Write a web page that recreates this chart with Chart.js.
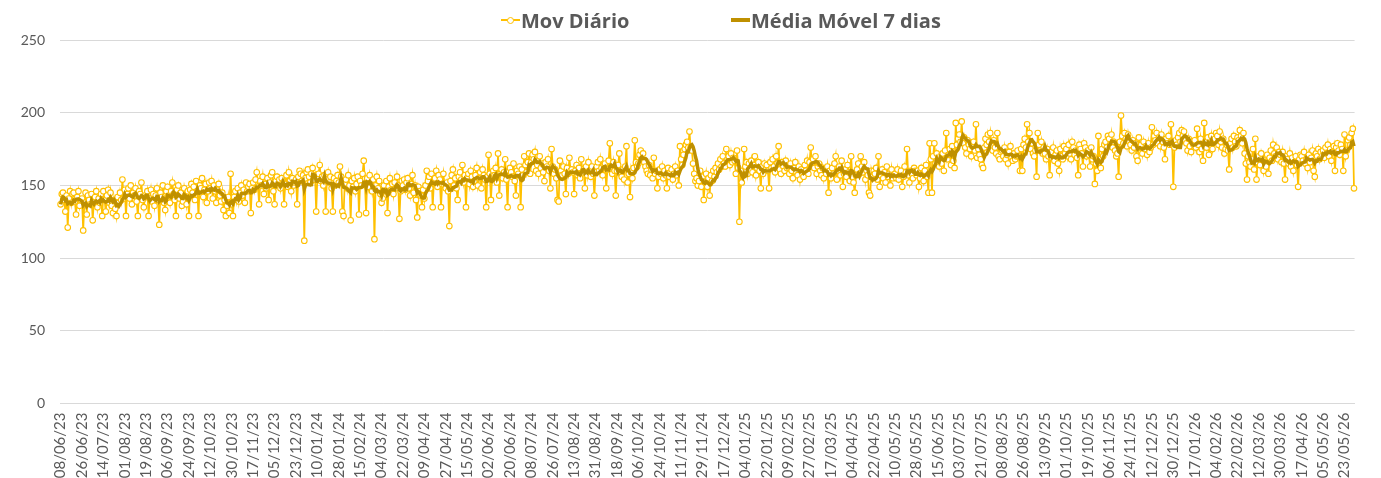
<!DOCTYPE html>
<html>
<head>
<meta charset="utf-8">
<script src="https://cdn.jsdelivr.net/npm/chart.js@4.4.1/dist/chart.umd.min.js"></script>
<style>
  html, body { margin: 0; padding: 0; background: #ffffff; overflow: hidden; }
  #wrap { position: relative; width: 1381px; height: 478px; }
  #c { position: absolute; left: 0; top: 0; }
  .leg { position: absolute; top: 7px; height: 26px; display: flex; align-items: center;
         font-family: "Open Sans", Lato, sans-serif; font-weight: 700; font-size: 20px; color: #595959; white-space: nowrap; }
  .ico { position: relative; width: 19px; height: 26px; margin-right: 1px; }
  .ico .ln { position: absolute; left: 0; right: 0; top: 50%; }
  .ico .mk { position: absolute; left: 50%; top: 50%; width: 5px; height: 5px; margin: -3.5px 0 0 -3.5px;
             border: 1.2px solid #FFC000; border-radius: 50%; background: #fff; }
</style>
</head>
<body>
<div id="wrap">
  <canvas id="c" width="1381" height="478" style="width:1381px;height:478px"></canvas>
  <div class="leg" style="left:501px">
    <span class="ico"><span class="ln" style="height:2px;margin-top:-1px;background:#FFC000"></span><span class="mk"></span></span>
    <span>Mov Diário</span>
  </div>
  <div class="leg" style="left:731px">
    <span class="ico"><span class="ln" style="height:3.5px;margin-top:-1.75px;background:#BF9000"></span></span>
    <span>Média Móvel 7 dias</span>
  </div>
</div>
<script>
// ---- data ----
const startDate = [2023, 6, 8];   // first category: 08/06/23 (daily)
const dayCount = 1089;

const tickLabels = ["08/06/23","26/06/23","14/07/23","01/08/23","19/08/23","06/09/23","24/09/23","12/10/23","30/10/23","17/11/23",
  "05/12/23","23/12/23","10/01/24","28/01/24","15/02/24","04/03/24","22/03/24","09/04/24","27/04/24","15/05/24",
  "02/06/24","20/06/24","08/07/24","26/07/24","13/08/24","31/08/24","18/09/24","06/10/24","24/10/24","11/11/24",
  "29/11/24","17/12/24","04/01/25","22/01/25","09/02/25","27/02/25","17/03/25","04/04/25","22/04/25","10/05/25",
  "28/05/25","15/06/25","03/07/25","21/07/25","08/08/25","26/08/25","13/09/25","01/10/25","19/10/25","06/11/25",
  "24/11/25","12/12/25","30/12/25","17/01/26","04/02/26","22/02/26","12/03/26","30/03/26","17/04/26","05/05/26","23/05/26"];

const yTicks = [0, 50, 100, 150, 200, 250];

const movDiario = [
  137,144,145,140,132,143,121,141,146,138,144,145,139,130,142,146,136,140,
  141,119,138,145,130,143,140,137,144,126,139,142,146,135,141,138,144,129,
  146,140,132,143,147,138,145,136,131,140,134,129,142,138,145,140,154,141,
  147,129,144,148,141,150,137,145,143,148,139,129,146,144,152,140,135,143,
  142,146,129,141,147,139,144,136,143,148,140,123,145,142,150,138,133,146,
  149,143,138,146,152,144,140,129,147,150,141,145,136,139,148,143,137,146,
  129,147,151,145,149,140,153,146,129,150,148,155,142,147,151,138,146,152,
  148,153,141,150,146,138,147,151,143,139,145,133,140,129,136,142,131,158,
  137,129,142,146,140,148,139,145,150,143,147,138,152,146,149,151,131,148,
  152,147,154,159,149,137,153,150,156,144,151,148,155,140,152,157,159,146,
  137,153,156,150,154,148,155,152,137,151,157,149,159,153,146,155,150,152,
  154,137,156,160,158,153,157,112,155,159,161,156,152,158,162,154,157,132,
  155,158,164,153,156,150,157,132,154,159,152,156,148,132,155,150,153,157,
  152,163,156,132,129,151,154,148,157,150,126,153,149,155,146,151,156,130,
  153,150,158,167,151,131,155,149,157,152,146,154,113,150,156,148,153,144,
  138,141,150,146,153,131,149,155,147,151,144,152,148,156,150,127,146,153,
  150,154,147,152,155,148,143,151,157,145,150,140,128,149,146,143,135,147,
  141,150,160,153,156,148,158,135,152,155,160,149,157,154,135,151,158,150,
  148,152,146,122,153,157,161,150,155,148,140,156,159,154,164,152,157,135,
  155,158,151,160,156,149,153,157,162,150,155,159,148,161,157,154,135,156,
  171,158,140,155,160,157,162,152,172,143,158,161,155,159,168,154,135,160,
  162,159,156,165,153,143,160,158,163,135,161,157,170,164,159,166,172,158,
  166,171,168,173,160,164,158,170,162,165,159,153,166,163,168,160,148,175,
  163,158,161,155,140,139,167,160,157,163,158,144,162,158,169,160,161,159,
  144,160,164,157,162,155,168,159,161,148,163,157,166,160,156,163,158,143,
  159,163,166,160,168,162,157,164,165,148,161,167,179,163,158,166,160,143,
  160,164,172,158,156,161,154,163,177,152,158,142,160,155,162,181,166,163,
  165,171,174,168,172,166,163,160,158,164,157,161,155,169,158,160,148,156,
  161,158,163,155,160,157,148,162,156,159,161,154,158,163,157,160,150,177,
  168,164,171,175,178,180,176,187,176,174,165,158,153,155,150,153,160,149,
  156,140,152,158,149,155,143,157,153,160,156,162,159,165,161,168,163,170,
  165,163,175,168,170,164,172,166,169,167,158,174,162,125,160,152,157,175,
  163,166,158,165,161,167,159,164,170,157,162,166,160,148,163,158,165,161,
  164,160,148,166,162,168,163,159,170,165,177,161,158,166,163,160,167,162,
  163,158,165,160,155,162,166,159,157,163,154,161,158,156,164,160,167,158,
  166,176,164,168,162,170,158,163,165,160,157,162,155,161,158,163,145,160,
  155,162,158,165,170,154,160,163,157,167,149,158,161,156,164,159,153,170,
  156,152,145,157,161,165,158,170,163,159,166,154,160,157,145,143,160,156,
  160,158,162,154,170,149,157,161,155,159,152,163,156,158,150,161,155,157,
  158,155,161,154,157,160,149,156,163,159,175,157,152,160,158,155,162,160,
  157,160,149,155,162,158,153,160,164,156,145,179,168,145,170,179,165,172,
  168,163,170,165,172,160,174,186,168,171,175,164,177,167,162,193,178,182,
  185,180,194,179,183,176,172,181,178,175,170,177,180,174,192,169,175,171,
  168,164,162,176,182,178,185,180,186,177,174,181,176,172,186,170,168,173,
  174,170,176,168,171,165,173,177,169,167,172,168,170,174,170,160,175,160,
  178,182,176,192,180,186,175,179,172,170,174,156,186,178,174,180,172,176,
  172,168,175,170,157,173,169,176,167,171,174,165,160,175,170,168,177,172,
  175,170,178,172,168,180,176,171,174,169,157,178,175,172,163,179,176,170,
  174,171,163,176,168,170,151,165,160,184,168,162,175,170,178,180,176,184,
  182,178,185,176,180,174,170,172,156,180,198,184,179,186,182,177,185,180,
  178,174,181,176,179,170,167,183,176,178,172,180,175,177,171,179,173,176,
  190,178,184,181,186,179,183,177,185,180,176,168,182,179,184,178,192,180,
  149,176,181,178,183,186,180,188,184,187,181,179,174,182,177,173,180,178,
  181,176,189,178,173,182,175,167,193,180,176,183,171,178,184,175,180,182,
  186,184,178,187,180,176,182,172,175,178,174,161,179,182,176,184,180,177,
  183,181,188,184,179,186,172,165,154,170,166,163,168,175,161,182,154,166,
  170,164,172,168,160,166,163,171,158,169,174,167,178,172,170,176,168,173,
  171,166,173,165,154,170,168,165,172,163,169,160,166,170,164,149,168,171,
  170,167,173,165,168,162,171,166,169,174,160,156,172,170,175,168,173,170,
  174,169,176,172,178,170,175,167,173,177,160,176,179,174,171,178,175,160,
  185,170,174,181,183,178,186,189,148
];

// 7-day moving average of the daily series (as in the source sheet)
const mediaMovel7 = movDiario.map((v, i) => {
  const s = movDiario.slice(Math.max(0, i - 6), i + 1);
  return s.reduce((a, b) => a + b, 0) / s.length;
});

// daily categories dd/mm/yy
const categories = [];
for (let i = 0; i < dayCount; i++) {
  const d = new Date(Date.UTC(startDate[0], startDate[1] - 1, startDate[2] + i));
  const dd = String(d.getUTCDate()).padStart(2, '0');
  const mm = String(d.getUTCMonth() + 1).padStart(2, '0');
  const yy = String(d.getUTCFullYear()).slice(2);
  categories.push(dd + '/' + mm + '/' + yy);
}

// ---- chart ----
const W = 1381, H = 478;
const yFont = { family: 'Lato, "Open Sans", sans-serif', size: 14 };
const xFont = { family: 'Lato, "Open Sans", sans-serif', size: 15 };

new Chart(document.getElementById('c'), {
  type: 'line',
  data: {
    labels: categories,
    datasets: [
      {
        label: 'Média Móvel 7 dias',
        data: mediaMovel7,
        borderColor: '#BF9000',
        borderWidth: 3.5,
        pointRadius: 0,
        tension: 0,
        order: 0
      },
      {
        label: 'Mov Diário',
        data: movDiario,
        borderColor: '#FFC000',
        borderWidth: 1.75,
        pointRadius: 2.8,
        pointBorderWidth: 1.1,
        pointBackgroundColor: '#FFFFFF',
        pointBorderColor: '#FFC000',
        tension: 0,
        order: 1
      }
    ]
  },
  options: {
    responsive: false,
    animation: false,
    events: [],
    layout: { padding: { top: 40, right: 8, left: 0, bottom: 0 } },
    plugins: { legend: { display: false }, tooltip: { enabled: false } },
    scales: {
      x: {
        type: 'category',
        offset: true,
        grid: { display: false, drawTicks: false },
        border: { display: true, color: '#D9D9D9', width: 1 },
        ticks: {
          autoSkip: false,
          minRotation: 90,
          maxRotation: 90,
          padding: 9,
          color: '#595959',
          font: xFont,
          callback: (v, i) => (i % 18 === 0 ? tickLabels[i / 18] : '')
        },
        afterFit: s => { s.height = H - 403.5; }
      },
      y: {
        min: yTicks[0],
        max: yTicks[yTicks.length - 1],
        afterBuildTicks: s => { s.ticks = yTicks.map(v => ({ value: v })); },
        grid: { color: '#D9D9D9', lineWidth: 1, drawTicks: false },
        border: { display: false },
        ticks: { padding: 15, color: '#595959', font: yFont },
        afterFit: s => { s.width = 60; }
      }
    }
  }
});
</script>
</body>
</html>
